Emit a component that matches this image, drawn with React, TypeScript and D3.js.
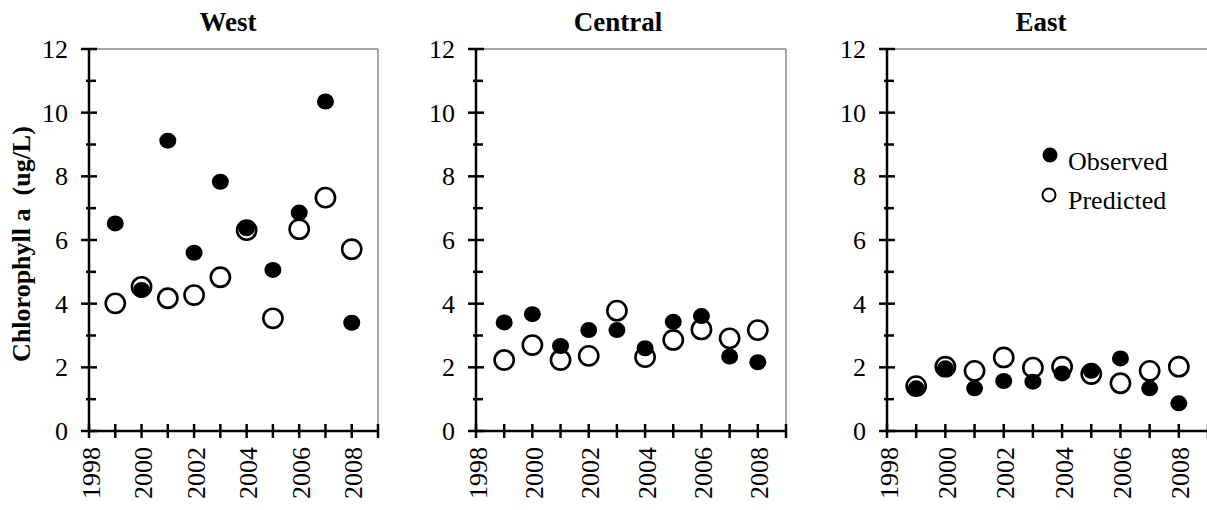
import React from "react";
import * as d3 from "d3";

const years = [1999, 2000, 2001, 2002, 2003, 2004, 2005, 2006, 2007, 2008];
const westObserved = [6.52, 4.43, 9.12, 5.6, 7.83, 6.37, 5.06, 6.86, 10.35, 3.4];
const westPredicted = [4.01, 4.53, 4.17, 4.27, 4.83, 6.31, 3.54, 6.34, 7.33, 5.71];
const centralObserved = [3.41, 3.67, 2.67, 3.17, 3.17, 2.6, 3.43, 3.61, 2.34, 2.16];
const centralPredicted = [2.23, 2.7, 2.23, 2.36, 3.78, 2.32, 2.86, 3.19, 2.91, 3.17];
const eastObserved = [1.34, 1.97, 1.34, 1.57, 1.55, 1.81, 1.89, 2.28, 1.34, 0.87];
const eastPredicted = [1.41, 2.02, 1.89, 2.31, 1.99, 2.02, 1.79, 1.5, 1.89, 2.02];
const panelTitles = ["West", "Central", "East"];
const yTickValues = [0, 1, 2, 3, 4, 5, 6, 7, 8, 9, 10, 11, 12];
const yLabelValues = [0, 2, 4, 6, 8, 10, 12];
const xTickYears = [1998, 1999, 2000, 2001, 2002, 2003, 2004, 2005, 2006, 2007, 2008, 2009];
const xLabelYears = [1998, 2000, 2002, 2004, 2006, 2008];
const yAxisTitle = "Chlorophyll a  (ug/L)";
const legendLabels = ["Observed", "Predicted"];

const FONT = "Liberation Serif, Times New Roman, DejaVu Serif, serif";
const TOP = 49;
const BOTTOM = 431;

const panels = [
  { left: 89, right: 378, titleX: 228, obs: westObserved, pred: westPredicted },
  { left: 476, right: 786, titleX: 618, obs: centralObserved, pred: centralPredicted },
  { left: 887, right: 1208, titleX: 1041, obs: eastObserved, pred: eastPredicted },
];

const txt = (size: number, bold = false): React.CSSProperties => ({
  fontFamily: FONT,
  fontSize: size,
  fontWeight: bold ? "bold" : "normal",
});

function Panel({ p, title }: { p: any; title: string }) {
  const x = d3.scaleLinear().domain([1998, 2009]).range([p.left, p.right]);
  const y = d3.scaleLinear().domain([0, 12]).range([BOTTOM, TOP]);
  return (
    <g>
      <text x={p.titleX} y={31} textAnchor="middle" style={txt(27, true)}>
        {title}
      </text>
      <line x1={p.left} x2={p.right} y1={TOP} y2={TOP} stroke="#888" strokeWidth={1.5} />
      <line x1={p.right} x2={p.right} y1={TOP} y2={BOTTOM} stroke="#888" strokeWidth={1.5} />
      <line x1={p.left} x2={p.left} y1={TOP} y2={BOTTOM} stroke="#000" strokeWidth={2.5} />
      <line x1={p.left} x2={p.right} y1={BOTTOM} y2={BOTTOM} stroke="#000" strokeWidth={2.5} />
      {yTickValues.map((v) => {
        const major = v % 2 === 0;
        return (
          <line
            key={"yt" + v}
            x1={p.left - (major ? 8 : 3)}
            x2={p.left + (major ? 8 : 7)}
            y1={y(v)}
            y2={y(v)}
            stroke="#000"
            strokeWidth={2.5}
          />
        );
      })}
      {yLabelValues.map((v) => (
        <text key={"yl" + v} x={p.left - 21} y={y(v) + 9} textAnchor="end" style={txt(26)}>
          {v}
        </text>
      ))}
      {xTickYears.map((yr) => (
        <line key={"xt" + yr} x1={x(yr)} x2={x(yr)} y1={BOTTOM - 7} y2={BOTTOM + 7} stroke="#000" strokeWidth={2.5} />
      ))}
      {xLabelYears.map((yr) => (
        <text
          key={"xl" + yr}
          transform={`translate(${x(yr) + 2},447) rotate(-90)`}
          textAnchor="end"
          dominantBaseline="central"
          style={txt(26)}
        >
          {yr}
        </text>
      ))}
      {years.map((yr, i) => (
        <circle key={"p" + yr} cx={x(yr)} cy={y(p.pred[i])} r={9.6} fill="#fff" stroke="#000" strokeWidth={2.6} />
      ))}
      {years.map((yr, i) => (
        <ellipse key={"o" + yr} cx={x(yr)} cy={y(p.obs[i])} rx={8.5} ry={8} fill="#000" />
      ))}
    </g>
  );
}

export default function App() {
  return (
    <svg width={1207} height={510} style={{ position: "absolute", left: 0, top: 0, background: "#fff" }}>
      <rect x={0} y={0} width={1207} height={510} fill="#fff" />
      {panels.map((p, i) => (
        <Panel key={i} p={p} title={panelTitles[i]} />
      ))}
      <text
        transform="translate(30,244) rotate(-90)"
        textAnchor="middle"
        style={{ ...txt(26, true), whiteSpace: "pre" }}
      >
        {yAxisTitle}
      </text>
      <circle cx={1050} cy={155} r={7.5} fill="#000" />
      <text x={1068} y={170} style={txt(26)}>
        {legendLabels[0]}
      </text>
      <circle cx={1049} cy={195} r={6.5} fill="#fff" stroke="#000" strokeWidth={2} />
      <text x={1068} y={209} style={txt(26)}>
        {legendLabels[1]}
      </text>
    </svg>
  );
}
